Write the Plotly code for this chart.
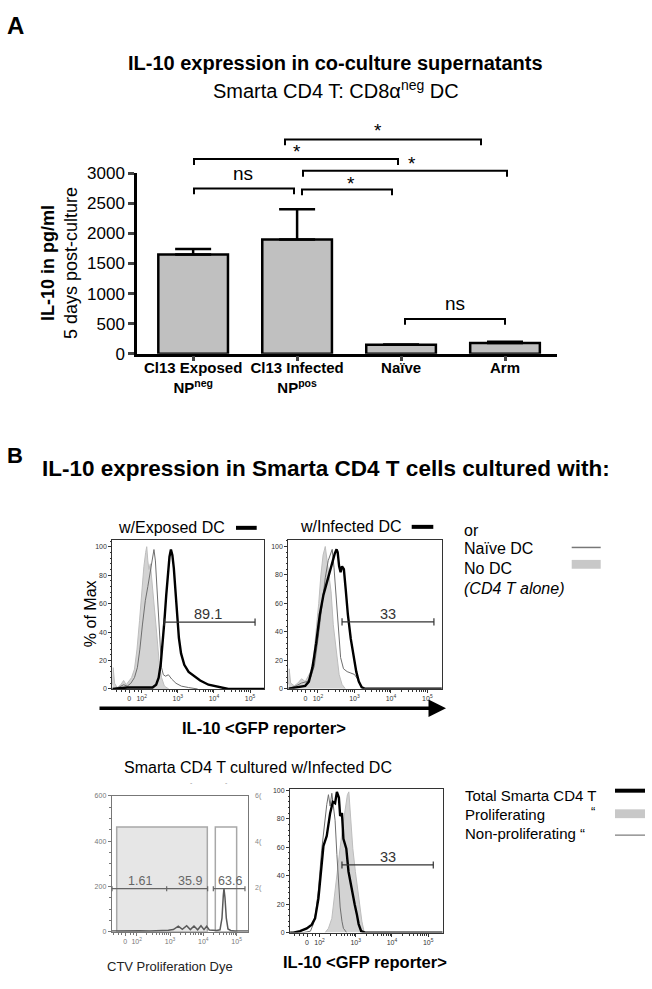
import numpy as np
import plotly.graph_objects as go

W, H = 652, 989
def X(px): return px / W
def Y(py): return 1 - py / H

FONT = "Liberation Sans, Arial, Helvetica, sans-serif"

# ---------------- Panel A data ----------------
categories = ["Cl13 Exposed NPneg", "Cl13 Infected NPpos", "Naive", "Arm"]
tick_labels = ["<b>Cl13 Exposed</b><br><b>NP<sup>neg</sup></b>",
               "<b>Cl13 Infected</b><br><b>NP<sup>pos</sup></b>",
               "<b>Naïve</b>", "<b>Arm</b>"]
il10_mean = [1650, 1900, 150, 180]
il10_err_up = [90, 500, 5, 20]
y_ticks_A = [0, 500, 1000, 1500, 2000, 2500, 3000]

# ---------------- Panel B data (display units: 2=10^2, 3=10^3 ...) ----------------
flow_tickvals = [1.657, 2, 3, 4, 5]
flow_ticktext = ["0", "10<sup>2</sup>", "10<sup>3</sup>", "10<sup>4</sup>", "10<sup>5</sup>"]
pct_ticks = [0, 20, 40, 60, 80, 100]
ctv_ticks = [0, 200, 400, 600]

# Top histogram 1: w/Exposed DC
nodc1_x = [1.19, 1.21, 1.25, 1.32, 1.42, 1.50, 1.57, 1.64, 1.72, 1.80, 1.87, 1.94, 2.00, 2.06, 2.11, 2.14, 2.17, 2.20, 2.24, 2.29, 2.35, 2.42, 2.48, 2.55, 2.63, 2.75]
nodc1_y = [3, 15, 4, 1, 3, 6, 3, 5, 8, 14, 28, 48, 70, 86, 96, 100, 90, 84, 88, 75, 60, 38, 20, 8, 2, 0]
naive1_x = [1.19, 1.35, 1.50, 1.60, 1.70, 1.80, 1.88, 1.95, 2.02, 2.10, 2.17, 2.24, 2.30, 2.34, 2.38, 2.42, 2.46, 2.50, 2.55, 2.60, 2.66, 2.74, 2.83, 2.95, 3.10, 3.30, 3.55]
naive1_y = [0, 1, 3, 2, 4, 8, 15, 28, 45, 62, 72, 84, 94, 98, 90, 72, 50, 30, 15, 10, 9, 10, 7, 4, 2, 1, 0]
exposed1_x = [1.19, 1.60, 2.00, 2.30, 2.40, 2.47, 2.53, 2.58, 2.63, 2.68, 2.73, 2.77, 2.81, 2.85, 2.89, 2.93, 2.98, 3.03, 3.09, 3.18, 3.30, 3.45, 3.62, 3.85, 4.10, 4.40, 5.40]
exposed1_y = [0, 1, 1, 1, 3, 8, 18, 32, 48, 66, 82, 93, 98, 94, 85, 70, 52, 36, 25, 17, 12, 9, 6, 3, 1.5, 0, 0]

# Top histogram 2: w/Infected DC
nodc2_x = [1.19, 1.21, 1.25, 1.35, 1.45, 1.55, 1.65, 1.72, 1.80, 1.88, 1.95, 2.02, 2.08, 2.14, 2.20, 2.25, 2.30, 2.36, 2.42, 2.50, 2.58, 2.66, 2.75]
nodc2_y = [3, 14, 4, 2, 4, 7, 5, 8, 12, 22, 40, 60, 80, 94, 100, 90, 80, 68, 45, 25, 10, 3, 0]
naive2_x = [1.19, 1.40, 1.55, 1.70, 1.80, 1.90, 2.00, 2.10, 2.20, 2.28, 2.34, 2.39, 2.44, 2.50, 2.56, 2.62, 2.70, 2.80, 2.90, 3.00, 3.08, 3.15, 3.25]
naive2_y = [0, 2, 4, 5, 8, 16, 35, 58, 78, 90, 95, 98, 85, 65, 40, 22, 14, 12, 11, 10, 7, 3, 0]
infected2_x = [1.19, 1.50, 1.65, 1.75, 1.85, 1.95, 2.05, 2.15, 2.25, 2.33, 2.40, 2.46, 2.51, 2.54, 2.58, 2.62, 2.66, 2.71, 2.76, 2.82, 2.90, 2.98, 3.05, 3.12, 3.20, 3.28, 5.40]
infected2_y = [0, 1, 2, 5, 15, 32, 52, 66, 76, 84, 90, 95, 98, 96, 86, 82, 86, 84, 70, 52, 35, 22, 12, 5, 1, 0, 0]

# Bottom left: CTV proliferation dye
ctv_x = [1.25, 1.5, 1.8, 2.1, 2.4, 2.7, 2.95, 3.10, 3.18, 3.25, 3.37, 3.50, 3.61, 3.72, 3.83, 3.93, 4.02, 4.10, 4.18, 4.28, 4.40, 4.50, 4.56, 4.60, 4.62, 4.65, 4.69, 4.74, 4.82, 4.95, 5.35]
ctv_y = [3, 4, 3, 4, 3, 4, 6, 9, 16, 24, 10, 26, 9, 25, 8, 26, 9, 24, 7, 5, 5, 8, 60, 160, 190, 150, 60, 12, 5, 3, 3]
ctv_gate_labels = ["1.61", "35.9", "63.6"]

# Bottom right: IL-10 by proliferation status
nonprolif_x = [1.19, 1.55, 1.75, 1.83, 1.90, 1.97, 2.06, 2.155, 2.20, 2.247, 2.294, 2.34, 2.40, 2.43, 2.48, 2.535, 2.57, 2.62, 2.66, 2.75]
nonprolif_y = [0, 0, 1, 6, 15, 30, 58, 82, 90, 97, 89, 98, 85, 79, 55, 30, 18, 8, 3, 0]
total_x = [1.19, 1.277, 1.463, 1.648, 1.787, 1.878, 1.97, 2.064, 2.109, 2.20, 2.294, 2.368, 2.43, 2.48, 2.535, 2.57, 2.62, 2.66, 2.74, 2.80, 2.895, 2.97, 3.03, 3.08, 3.15, 3.26, 5.40]
total_y = [0, 0, 1, 3, 5.6, 10, 24, 47, 61, 68, 84, 92, 91, 99, 95, 82, 84, 66, 59, 43, 29, 20, 13, 6, 1, 0, 0]
prolif_x = [2.155, 2.247, 2.34, 2.43, 2.50, 2.57, 2.66, 2.71, 2.77, 2.81, 2.85, 2.92, 2.99, 3.08, 3.17, 3.235]
prolif_y = [0, 3, 10, 31, 45, 60, 78, 88, 97, 99, 82, 59, 43, 24, 8, 0]

gate_pct_top1 = "89.1"
gate_pct_top2 = "33"
gate_pct_bottom = "33"

# ---------------- build figure ----------------
fig = go.Figure()

fig.add_trace(go.Bar(
    x=categories, y=il10_mean, width=0.67,
    marker=dict(color="#c0c0c0", line=dict(color="black", width=2.5)),
    error_y=dict(type="data", array=il10_err_up, arrayminus=[0] * 4, symmetric=False,
                 color="black", thickness=2.5, width=18),
    xaxis="x", yaxis="y", showlegend=False))

FILL = "#d3d3d3"
FILL_LINE = "#bdbdbd"
THIN = "#6e6e6e"

def hist_traces(xa, ya, fill_xy, thin_xy, black_xy):
    fig.add_trace(go.Scatter(x=fill_xy[0], y=fill_xy[1], mode="lines", fill="tozeroy",
                             fillcolor=FILL, line=dict(color=FILL_LINE, width=1),
                             xaxis=xa, yaxis=ya, showlegend=False))
    fig.add_trace(go.Scatter(x=thin_xy[0], y=thin_xy[1], mode="lines",
                             line=dict(color=THIN, width=1),
                             xaxis=xa, yaxis=ya, showlegend=False))
    fig.add_trace(go.Scatter(x=black_xy[0], y=black_xy[1], mode="lines",
                             line=dict(color="black", width=2.4),
                             xaxis=xa, yaxis=ya, showlegend=False))

hist_traces("x2", "y2", (nodc1_x, nodc1_y), (naive1_x, naive1_y), (exposed1_x, exposed1_y))
hist_traces("x3", "y3", (nodc2_x, nodc2_y), (naive2_x, naive2_y), (infected2_x, infected2_y))
fig.add_trace(go.Scatter(x=ctv_x, y=ctv_y, mode="lines", line=dict(color="#5a5a5a", width=1.5),
                         xaxis="x4", yaxis="y4", showlegend=False))
hist_traces("x5", "y5", (prolif_x, prolif_y), (nonprolif_x, nonprolif_y), (total_x, total_y))

minor_x = [1.3, 1.45, 1.55, 1.8, 1.9] + [float(n + np.log10(k)) for n in (2, 3, 4) for k in range(2, 10)]

def flow_xaxis(dom, rng, anchor, color="#333", tfs=7):
    return dict(domain=dom, range=rng, anchor=anchor, showline=True, mirror=True,
                linecolor=color, linewidth=1, ticks="outside", ticklen=3, tickcolor=color,
                tickvals=flow_tickvals, ticktext=flow_ticktext,
                tickfont=dict(size=tfs, color=color), showgrid=False, zeroline=False,
                minor=dict(tickmode="array", tickvals=minor_x, ticks="outside", ticklen=2, tickcolor=color))

def flow_yaxis(dom, rng, anchor, tickvals, mdt, color="#333", tfs=7):
    return dict(domain=dom, range=rng, anchor=anchor, showline=True, mirror=True,
                linecolor=color, linewidth=1, ticks="outside", ticklen=3, tickcolor=color,
                tickvals=tickvals, tickfont=dict(size=tfs, color=color),
                showgrid=False, zeroline=False,
                minor=dict(dtick=mdt, ticks="outside", ticklen=1.5, tickcolor=color))

layout = dict(
    width=W, height=H, autosize=False,
    margin=dict(l=0, r=0, t=0, b=0),
    paper_bgcolor="white", plot_bgcolor="rgba(0,0,0,0)",
    font=dict(family=FONT, color="black"),
    xaxis=dict(domain=[X(137), X(557)], range=[-0.54, 3.5], anchor="y",
               tickvals=categories, ticktext=tick_labels, tickfont=dict(size=15),
               tickangle=0, ticklabelstandoff=-6,
               showline=True, linecolor="black", linewidth=2.5, ticks="outside",
               ticklen=5, tickwidth=2.5, showgrid=False, zeroline=False),
    yaxis=dict(domain=[Y(351.5), Y(167.5)], range=[0, 3000], anchor="x",
               tickvals=y_ticks_A, tickfont=dict(size=17),
               showline=True, linecolor="black", linewidth=2.5, ticks="outside",
               ticklen=6, tickwidth=2.5, showgrid=False, zeroline=False),
    xaxis2=flow_xaxis([X(112.3), X(264.3)], [1.186, 5.396], "y2"),
    yaxis2=flow_yaxis([Y(693.3), Y(541.7)], [0, 104.5], "x2", pct_ticks, 4),
    xaxis3=flow_xaxis([X(288.3), X(441.8)], [1.186, 5.396], "y3"),
    yaxis3=flow_yaxis([Y(693.0), Y(541.5)], [0, 104.5], "x3", pct_ticks, 4),
    xaxis4=flow_xaxis([X(111.7), X(248.3)], [1.25, 5.35], "y4", color="#777"),
    yaxis4=flow_yaxis([Y(940.7), Y(802.3)], [0, 600], "x4", ctv_ticks, 50, color="#777"),
    xaxis5=flow_xaxis([X(290), X(442.7)], [1.186, 5.40], "y5"),
    yaxis5=flow_yaxis([Y(941.7), Y(795)], [0, 101.2], "x5", pct_ticks, 4),
)
fig.update_layout(**layout)

shapes = []
annotations = []

def ann(px, py, text, size=16, xanchor="center", color="black", angle=0, **kw):
    annotations.append(dict(x=X(px), y=Y(py), xref="paper", yref="paper", text=text,
                            showarrow=False, xanchor=xanchor, yanchor="middle",
                            textangle=angle, font=dict(size=size, color=color, family=FONT), **kw))

def pline(x0, y0, x1, y1, color="black", width=2):
    shapes.append(dict(type="line", xref="paper", yref="paper", x0=X(x0), y0=Y(y0),
                       x1=X(x1), y1=Y(y1), line=dict(color=color, width=width)))

def bracket(x0, x1, y, drop=6):
    shapes.append(dict(type="path", xref="paper", yref="paper",
                       path=f"M {X(x0)},{Y(y+drop)} L {X(x0)},{Y(y)} L {X(x1)},{Y(y)} L {X(x1)},{Y(y+drop)}",
                       line=dict(color="black", width=2)))

# ---- Panel A text ----
ann(15.5, 17, "<b>A</b>", 24)
ann(335, 55, "<b>IL-10 expression in co-culture supernatants</b>", 20)
ann(336, 82, "Smarta CD4 T: CD8α<sup>neg</sup> DC", 20)
ann(59, 259, "<b>IL-10 in pg/ml</b><br>5 days post-culture", 18, angle=-90)

for (x0, x1, yb, tx, ty, t) in [(285, 481, 133, 378, 124, "*"),
                                (194, 398, 153, 297, 145, "*"),
                                (303, 507, 165, 412, 158, "*"),
                                (194, 294, 183, 243, 168, "ns"),
                                (302, 392, 184, 351, 178, "*"),
                                (405, 505, 316, 454.5, 300, "ns")]:
    bracket(x0, x1, yb)
    ann(tx, ty, t, 19)

# ---- Panel B text ----
ann(15, 455, "<b>B</b>", 22)
ann(326, 468, "<b>IL-10 expression in Smarta CD4 T cells cultured with:</b>", 22.5)

ann(171.7, 529, "w/Exposed DC", 16)
pline(236, 529, 256.7, 529, width=4)
ann(350, 528, "w/Infected DC", 16)
pline(411.7, 528, 433.3, 528, width=4)

ann(461.7, 531.7, "or", 16, xanchor="left")
ann(461.7, 550.5, "Naïve DC", 16, xanchor="left")
ann(461.7, 570.5, "No DC", 16, xanchor="left")
ann(461.7, 590.5, "<i>(CD4 T alone)</i>", 16, xanchor="left")
pline(571.7, 549, 600.7, 549, color="#777", width=1.5)
shapes.append(dict(type="rect", xref="paper", yref="paper", x0=X(571.7), x1=X(600.7),
                   y0=Y(570.7), y1=Y(561.7), fillcolor="#c8c8c8", line=dict(width=0)))

ann(90, 617, "% of Max", 16, angle=-90)
ann(264, 733, "<b>IL-10 &lt;GFP reporter&gt;</b>", 16.5)
annotations.append(dict(x=X(446), y=Y(713), xref="paper", yref="paper", text="",
                        showarrow=True, ax=-348, ay=0, axref="pixel", ayref="pixel",
                        arrowhead=2, arrowsize=1, arrowwidth=3.5, arrowcolor="black",
                        standoff=0, startstandoff=0))

def gate(xa, ya, x0, x1, yv, tick, label, lx, ly, color="#333", size=14.5):
    shapes.append(dict(type="line", xref=xa, yref=ya, x0=x0, x1=x1, y0=yv, y1=yv,
                       line=dict(color=color, width=1.2)))
    for xx in (x0, x1):
        shapes.append(dict(type="line", xref=xa, yref=ya, x0=xx, x1=xx, y0=yv - tick, y1=yv + tick,
                           line=dict(color=color, width=1.2)))
    if label:
        annotations.append(dict(x=lx, y=ly, xref=xa, yref=ya, text=label, showarrow=False,
                                font=dict(size=size, color=color, family=FONT),
                                xanchor="center", yanchor="middle"))

gate("x2", "y2", 2.62, 5.14, 47, 2.5, gate_pct_top1, 3.84, 52.5)
gate("x3", "y3", 2.66, 5.18, 47, 2.5, gate_pct_top2, 3.91, 52.5)
gate("x5", "y5", 2.62, 5.14, 47.6, 2.5, gate_pct_bottom, 3.88, 53.5)

shapes.append(dict(type="rect", xref="x4", yref="y4", x0=1.40, x1=4.12, y0=0, y1=463,
                   fillcolor="#e6e6e6", line=dict(color="#a8a8a8", width=1.5), layer="below"))
shapes.append(dict(type="rect", xref="x4", yref="y4", x0=4.36, x1=5.0, y0=0, y1=463,
                   fillcolor="white", line=dict(color="#a8a8a8", width=1.5), layer="below"))
gate("x4", "y4", 1.26, 4.13, 190, 11, None, 0, 0, color="#666")
shapes.append(dict(type="line", xref="x4", yref="y4", x0=2.90, x1=2.90, y0=179, y1=201,
                   line=dict(color="#666", width=1.2)))
gate("x4", "y4", 4.30, 5.25, 190, 11, None, 0, 0, color="#666")
for lbl, lx in zip(ctv_gate_labels, [2.10, 3.60, 4.80]):
    annotations.append(dict(x=lx, y=224, xref="x4", yref="y4", text=lbl, showarrow=False,
                            font=dict(size=12.5, color="#666", family=FONT),
                            xanchor="center", yanchor="middle"))
for py, t in [(802, "6("), (849, "4("), (896, "2(")]:
    ann(253, py, t, 7, xanchor="left", color="#888")
ann(191.7, 789, "-", 7, color="#999")
ann(226.7, 789, "-", 7, color="#999")

ann(258, 773, "Smarta CD4 T cultured w/Infected DC", 16)
ann(170, 976.5, "CTV Proliferation Dye", 13, color="#222")
ann(365, 971.5, "<b>IL-10 &lt;GFP reporter&gt;</b>", 16.5)

ann(463.3, 801.7, "Total Smarta CD4 T", 15, xanchor="left")
ann(463.3, 821.7, "Proliferating", 15, xanchor="left")
ann(593, 818, "“", 13, xanchor="center")
ann(463.3, 840.5, "Non-proliferating “", 15, xanchor="left")
pline(615, 797, 645, 797, width=4)
shapes.append(dict(type="rect", xref="paper", yref="paper", x0=X(615), x1=X(645),
                   y0=Y(825), y1=Y(816), fillcolor="#c8c8c8", line=dict(width=0)))
pline(615, 842.3, 645, 842.3, color="#777", width=1.2)

fig.update_layout(shapes=shapes, annotations=annotations)

fig.write_html("out.html", config={"displayModeBar": False},
               post_script="document.body.style.margin='0';")
